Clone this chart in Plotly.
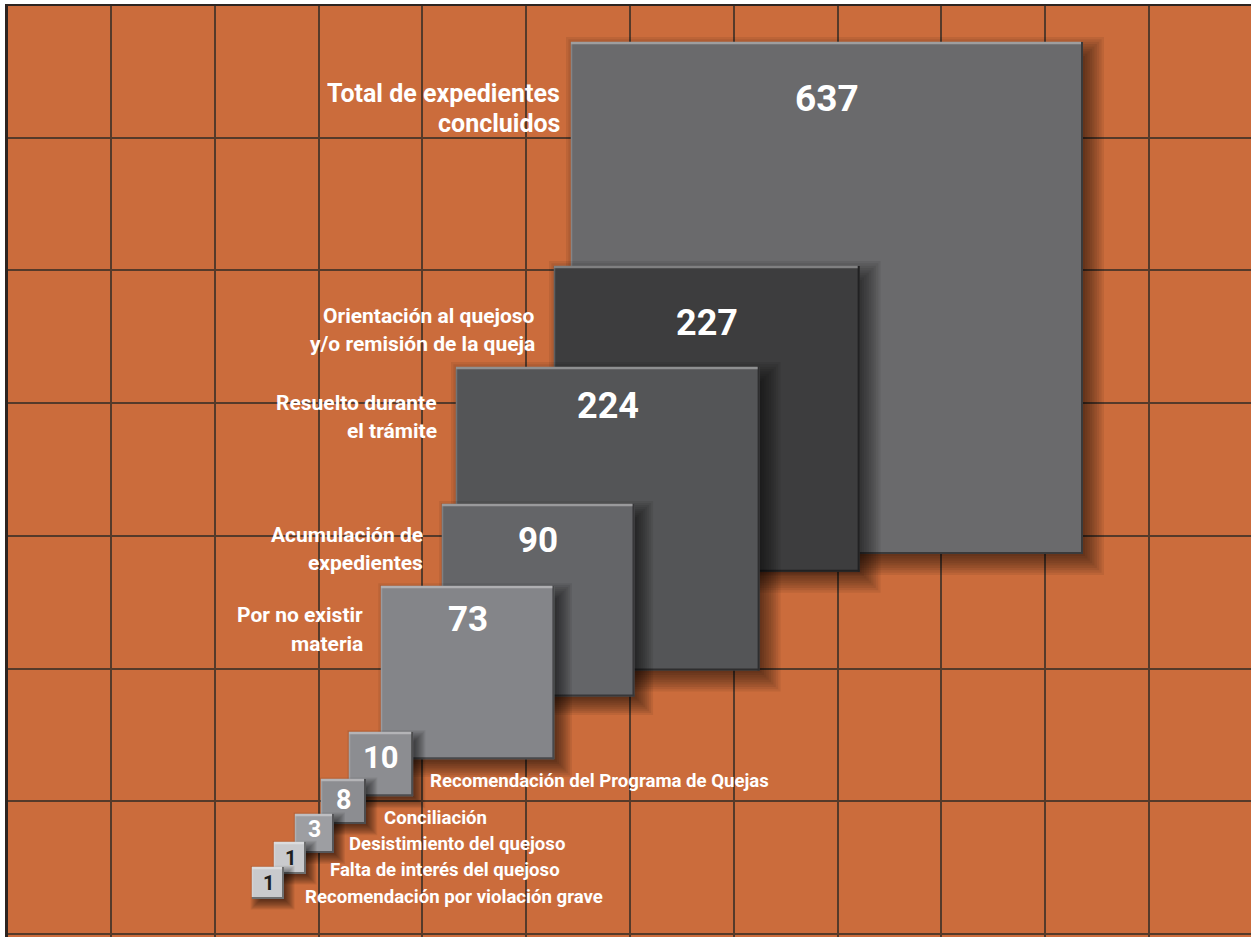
import math
import plotly.graph_objects as go

# ---------------- data ----------------
CATEGORIES = [
    "Total de expedientes\nconcluidos",
    "Orientación al quejoso\ny/o remisión de la queja",
    "Resuelto durante\nel trámite",
    "Acumulación de\nexpedientes",
    "Por no existir\nmateria",
    "Recomendación del Programa de Quejas",
    "Conciliación",
    "Desistimiento del quejoso",
    "Falta de interés del quejoso",
    "Recomendación por violación grave",
]
VALUES = [637, 227, 224, 90, 73, 10, 8, 3, 1, 1]

# ---------------- layout / style ----------------
W, H = 1251, 937
TOTAL_SIDE = 512                      # side (px units) of the square for the total
ANCHOR_X = [571, 554, 456, 442, 381, 349, 321, 295, 274, 252]   # top-left of tiles
ANCHOR_Y = [42, 266, 367, 504, 586, 732, 779, 814, 842, 867]
SIDE_OVERRIDE = [None, None, None, None, None, None, 45, 39, 32, 32]  # tiny tiles enlarged for legibility
BOX_COLORS = ["#6a6a6c", "#3d3d3e", "#545557", "#646568", "#848589",
              "#8c8d91", "#8c8d91", "#9d9ea2", "#c9cacd", "#c9cacd"]
NUM_COLORS = ["#ffffff"] * 8 + ["#1e1e1e", "#1e1e1e"]
NUM_SIZE = [37, 36, 36, 35, 35, 31, 27, 23, 20, 20]
NUM_DY = [56, 57, 39, 36, 33, 25, 21, 15, 16, 16]

LABEL_X = [562, 537, 439, 425, 365, 428, 382, 347, 328, 303]
LABEL_Y = [93, 316, 403, 535, 615, 781, 818, 844, 870, 897]
LABEL_ANCHOR = ["right"] * 5 + ["left"] * 5
LABEL_SIZE = [25, 21, 21, 21, 21, 18.6, 18.6, 18.6, 18.6, 18.6]
LABEL_GAP = [30, 28, 28, 28, 29, 0, 0, 0, 0, 0]

BG = "#cb6c3c"
GRID = "#553a2a"
BORDER = "#2d2420"
FONT = "Roboto, Liberation Sans, Arial, sans-serif"


def shade(hex_color, f):
    r, g, b = (int(hex_color[i:i + 2], 16) for i in (1, 3, 5))
    if f >= 0:
        r, g, b = (int(c + (255 - c) * f) for c in (r, g, b))
    else:
        r, g, b = (int(c * (1 + f)) for c in (r, g, b))
    return "#%02x%02x%02x" % (r, g, b)


fig = go.Figure()
# invisible trace to anchor axes
fig.add_trace(go.Scatter(x=[ANCHOR_X[0]], y=[ANCHOR_Y[0]], mode="markers",
                         marker=dict(opacity=0), hoverinfo="skip", showlegend=False))

shapes = []
annotations = []
total = VALUES[0]
for i, v in enumerate(VALUES):
    side = SIDE_OVERRIDE[i] if SIDE_OVERRIDE[i] else TOTAL_SIDE * math.sqrt(v / total)
    x0, y0 = ANCHOR_X[i], ANCHOR_Y[i]
    x1, y1 = x0 + side, y0 + side

    # soft drop shadow (stacked translucent rectangles approximating a blur)
    off = min(8, 4 + side * 0.02)
    blur = min(26, 10 + side * 0.06)
    n = 12
    for k in range(n):
        e = -blur / 2 + blur * k / (n - 1)
        shapes.append(dict(type="rect", xref="x", yref="y",
                           x0=x0 + off - e, y0=y0 + off - e,
                           x1=x1 + off + e, y1=y1 + off + e,
                           fillcolor="black", opacity=0.07, line_width=0, layer="above"))
    # tile
    c = BOX_COLORS[i]
    shapes.append(dict(type="rect", xref="x", yref="y", x0=x0, y0=y0, x1=x1, y1=y1,
                       fillcolor=c, line_width=0, layer="above"))
    # bevel
    shapes.append(dict(type="line", xref="x", yref="y", x0=x0, y0=y1 - 1, x1=x1, y1=y1 - 1,
                       line=dict(color=shade(c, -0.45), width=2), layer="above"))
    shapes.append(dict(type="line", xref="x", yref="y", x0=x1 - 1, y0=y0, x1=x1 - 1, y1=y1,
                       line=dict(color=shade(c, -0.45), width=2), layer="above"))
    shapes.append(dict(type="line", xref="x", yref="y", x0=x0 + 0.5, y0=y0, x1=x0 + 0.5, y1=y1 - 2,
                       line=dict(color=shade(c, 0.18), width=1.5), layer="above"))
    shapes.append(dict(type="line", xref="x", yref="y", x0=x0, y0=y0 + 1, x1=x1 - 2, y1=y0 + 1,
                       line=dict(color=shade(c, 0.35), width=2.5), layer="above"))

    # value
    annotations.append(dict(x=(x0 + x1) / 2, y=y0 + NUM_DY[i], xref="x", yref="y",
                            text=str(v), showarrow=False, xanchor="center", yanchor="middle",
                            font=dict(family=FONT, size=NUM_SIZE[i], color=NUM_COLORS[i],
                                      weight="bold")))
    # category label
    for j, line in enumerate(CATEGORIES[i].split("\n")):
        annotations.append(dict(x=LABEL_X[i], y=LABEL_Y[i] + j * LABEL_GAP[i], xref="x", yref="y",
                                text=line, showarrow=False, xanchor=LABEL_ANCHOR[i],
                                yanchor="middle", align=LABEL_ANCHOR[i],
                                font=dict(family=FONT, size=LABEL_SIZE[i], color="white",
                                          weight="bold")))

fig.update_layout(
    width=W, height=H,
    margin=dict(l=8, r=0, t=6, b=0, pad=0),
    paper_bgcolor="white", plot_bgcolor=BG,
    shapes=shapes, annotations=annotations,
    showlegend=False,
    xaxis=dict(range=[8, W], side="top", showline=True, linecolor=BORDER, linewidth=2,
               showgrid=True, gridcolor=GRID, gridwidth=2, tick0=7.2, dtick=103.8,
               showticklabels=False, ticks="", zeroline=False, fixedrange=True),
    yaxis=dict(range=[H, 6], showline=True, linecolor=BORDER, linewidth=3,
               showgrid=True, gridcolor=GRID, gridwidth=2, tick0=5, dtick=132.7,
               showticklabels=False, ticks="", zeroline=False, fixedrange=True),
)

fig.write_html("out.html", config={"displayModeBar": False},
               post_script="document.body.style.margin='0px';")
